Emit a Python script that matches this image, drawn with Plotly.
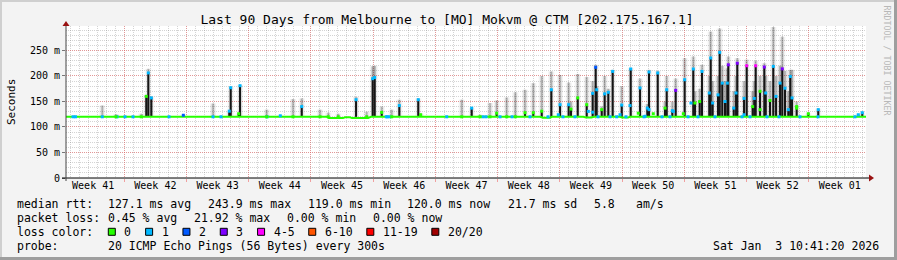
import pandas as pd
import plotly.graph_objects as go

# ---------------- data ----------------
start_time = pd.Timestamp("2025-10-05 10:41:20")
end_time = pd.Timestamp("2026-01-03 10:41:20")

title_text = "Last 90 Days from Melbourne to [MO] Mokvm @ CTM [202.175.167.1]"

week_boundaries = ["2025-10-12", "2025-10-19", "2025-10-26", "2025-11-02", "2025-11-09",
                   "2025-11-16", "2025-11-23", "2025-11-30", "2025-12-07", "2025-12-14",
                   "2025-12-21", "2025-12-28"]
week_label_dates = ["2025-10-08 12:00", "2025-10-15 12:00", "2025-10-22 12:00", "2025-10-29 12:00",
                    "2025-11-05 12:00", "2025-11-12 12:00", "2025-11-19 12:00", "2025-11-26 12:00",
                    "2025-12-03 12:00", "2025-12-10 12:00", "2025-12-17 12:00", "2025-12-24 12:00",
                    "2025-12-31 12:00"]
week_labels = ["Week 41", "Week 42", "Week 43", "Week 44", "Week 45", "Week 46", "Week 47",
               "Week 48", "Week 49", "Week 50", "Week 51", "Week 52", "Week 01"]

y_tick_values = [0, 50, 100, 150, 200, 250]
y_tick_labels = ["0", "50 m", "100 m", "150 m", "200 m", "250 m"]

# median rtt baseline (days after start, ms)
baseline_day = [0.0, 29.36, 29.59, 31.16, 31.39, 31.95, 32.18, 33.98, 34.31,
                53.33, 53.66, 54.45, 54.68, 58.2, 58.5, 59.1, 59.4, 62.33, 62.55, 63.23, 63.45, 90.0]
baseline_ms = [120, 120, 117.5, 117.5, 119, 119, 117.5, 117.5, 120,
               120, 118, 118, 120, 120, 118.5, 118.5, 120, 120, 118.5, 118.5, 120, 120]

# latency spikes: position, median top, smoke (max) top, loss colour index
spike_day = [4.08, 5.63, 8.47, 9.03, 9.26, 9.60, 13.20, 16.54, 18.37, 18.53, 19.43, 19.58,
             22.58, 24.11, 25.54, 26.52, 28.58, 29.51, 30.63, 32.63, 33.83, 34.50, 34.73,
             35.52, 36.03, 36.64, 37.50, 39.63, 39.90, 44.52, 45.64, 46.58, 47.70, 48.45,
             49.58, 50.55, 51.64, 52.57, 53.52, 54.60, 55.58, 56.55, 57.57, 58.58, 59.25,
             59.59, 60.27, 60.60, 61.50, 62.52, 63.53, 64.58, 65.59, 66.57, 67.58, 68.59,
             69.60, 70.57, 71.55, 72.53, 73.54, 74.51, 75.52, 76.58, 77.59, 78.56, 79.57,
             80.58, 81.48, 82.20, 83.51, 84.63, 89.13, 89.58,
             56.81, 59.70, 61.01, 65.40, 67.39, 68.21, 70.76, 71.29, 72.37, 72.75, 73.35,
             73.83, 74.14, 74.40, 75.12, 75.38, 76.28, 77.25, 77.43, 78.08, 78.72, 79.20,
             79.88, 80.33, 80.89, 81.26, 81.68]
spike_median_ms = [120, 120, 120, 160, 206, 157, 123, 120, 131, 177, 126, 181,
                   120, 122, 120, 140, 120, 120, 120, 153.5, 120, 194.7, 197,
                   128.6, 120, 120, 142, 153.5, 124, 120, 137, 120, 120, 127,
                   120, 120, 128, 128, 131, 173, 143.7, 143.7, 157, 143.7, 166,
                   217, 134, 165, 209, 143, 213.7, 176.5, 207.8, 205.9, 173, 171.8,
                   192.7, 213.7, 209, 235.3, 246.3, 222, 225, 220, 220, 217.6, 218.8,
                   214, 199, 140, 126, 134, 124, 128,
                   135, 173, 168, 137, 137, 132, 147, 150, 166.6, 147, 163,
                   186, 150, 186, 137, 166.6, 156, 140, 156, 170, 166.6, 152,
                   160, 186, 176, 134, 157]
spike_smoke_ms = [142, 125, 126, 163, 214, 160, 124, 146, 132, 179, 127, 182,
                  134, 123, 155, 156, 134, 128, 126, 159, 130, 219, 220,
                  140, 122, 134, 153.5, 156, 126, 153.5, 138, 124, 147, 152,
                  158, 168, 173, 186, 200, 209, 202, 187, 204, 198, 190,
                  222, 140, 200, 212, 180, 216, 195, 212, 210, 200, 195,
                  235, 238, 222, 287, 293, 238, 235, 232, 230, 225, 296,
                  277, 212, 150, 127, 136, 125, 129,
                  150, 180, 175, 145, 150, 150, 170, 175, 200, 190, 200,
                  220, 190, 215, 170, 200, 190, 170, 190, 200, 200, 190,
                  200, 220, 210, 170, 212]
spike_loss = [1, 0, 0, 0, 1, 1, 2, 1, 1, 1, 0, 1,
              0, 1, 0, 1, 0, 0, 0, 1, 0, 1, 1,
              0, 1, 0, 1, 1, 0, 0, 1, 0, 0, 0,
              0, 0, 0, 0, 0, 1, 1, 1, 0, 0, 1,
              2, 0, 1, 1, 1, 1, 1, 1, 1, 1, 3,
              1, 1, 1, 1, 1, 3, 3, 4, 4, 3, 1,
              3, 1, 0, 0, 1, 1, 1,
              0, 1, 1, 1, 0, 1, 0, 0, 1, 1, 1,
              1, 1, 1, 1, 1, 1, 0, 1, 0, 1, 0,
              1, 1, 1, 1, 1]

# extra median points coloured by loss (days, ms, loss index)
dot_day = [55.38, 58.76, 59.25, 62.33, 63.45, 64.38, 65.14, 65.59, 66.07, 68.32, 69.45,
           70.31, 76.28, 78.08, 82.20,
           0.79, 1.07, 5.74, 6.64, 7.54, 11.59, 17.44, 22.61, 36.17, 36.45, 42.83, 46.91,
           47.25, 48.83, 50.18, 52.2, 54.23, 55.91, 57.26, 59.85, 61.2, 61.95, 63.0, 65.03,
           67.05, 67.95, 69.98, 71.1, 73.01, 76.05, 76.95, 78.86, 80.21, 82.57, 84.6, 88.76]
dot_ms = [124, 130.6, 129, 124, 142, 127, 121, 134, 126, 130.6, 126,
          147, 124, 134, 137,
          120, 120, 120, 120, 120, 120, 120, 120, 120, 120, 120, 120,
          120, 120, 120, 120, 120, 120, 120, 120, 120, 120, 120, 120,
          120, 120, 120, 120, 120, 120, 120, 120, 120, 120, 120, 120]
dot_loss = [1, 1, 1, 1, 1, 0, 1, 1, 0, 1, 0,
            1, 1, 0, 0,
            1, 1, 1, 1, 1, 1, 1, 1, 1, 1, 1, 1,
            1, 1, 1, 1, 1, 1, 1, 1, 1, 1, 1, 1,
            1, 1, 1, 1, 1, 1, 1, 1, 1, 1, 1, 1]

loss_labels = ["0", "1", "2", "3", "4-5", "6-10", "11-19", "20/20"]
loss_colors = ["#26ff00", "#00b8ff", "#0059ff", "#7e00ff", "#ff00ff", "#ff5500", "#ff0000", "#a10000"]

rtt_avg, rtt_max, rtt_min, rtt_now, rtt_sd, rtt_ams = 127.1, 243.9, 119.0, 120.0, 21.7, 5.8
loss_avg, loss_max, loss_min, loss_now = 0.45, 21.92, 0.00, 0.00
probe_text = "20 ICMP Echo Pings (56 Bytes) every 300s"
stamp_text = "Sat Jan  3 10:41:20 2026"
base_ms = 120

# ---------------- layout geometry ----------------
W, H = 897, 260
L, R, T, B = 66, 31, 26, 82
PW, PH = W - L - R, H - T - B
MONO = "DejaVu Sans Mono"


def px(x):
    return (x - L) / PW


def py(y):
    return (H - B - y) / PH


def when(d):
    return start_time + pd.Timedelta(days=d)


def segs(days, lo, hi, cond=None):
    xs, ys = [], []
    for i, (d, a, b) in enumerate(zip(days, lo, hi)):
        if cond is not None and not cond[i]:
            continue
        t = when(d)
        xs += [t, t, None]
        ys += [a, b, None]
    return xs, ys


fig = go.Figure()

lo = [base_ms] * len(spike_day)
sx, sy = segs(spike_day, lo, spike_smoke_ms)
fig.add_trace(go.Scatter(x=sx, y=sy, mode="lines", line=dict(color="rgba(40,40,40,0.06)", width=6),
                         hoverinfo="skip", showlegend=False))
fig.add_trace(go.Scatter(x=sx, y=sy, mode="lines", line=dict(color="rgba(40,40,40,0.16)", width=3),
                         hoverinfo="skip", showlegend=False))
fig.add_trace(go.Scatter(x=sx, y=sy, mode="lines", line=dict(color="rgba(40,40,40,0.22)", width=1.2),
                         hoverinfo="skip", showlegend=False))
bx, by = segs(spike_day, lo, spike_median_ms, [m > base_ms + 1 for m in spike_median_ms])
fig.add_trace(go.Scatter(x=bx, y=by, mode="lines", line=dict(color="#151515", width=2),
                         hoverinfo="skip", showlegend=False))
fig.add_trace(go.Scatter(x=[when(d) for d in baseline_day], y=baseline_ms, mode="lines",
                         line=dict(color=loss_colors[0], width=2), hoverinfo="skip", showlegend=False))
mk_x = [when(d) for d in spike_day]
mk_y = list(spike_median_ms)
mk_c = [loss_colors[i] for i in spike_loss]
fig.add_trace(go.Scatter(x=[when(d) for d in dot_day] + mk_x, y=list(dot_ms) + mk_y, mode="markers",
                         marker=dict(symbol="square", size=3, color=[loss_colors[i] for i in dot_loss] + mk_c,
                                     line=dict(width=0)),
                         hoverinfo="skip", showlegend=False))
# carrier for the label axis
fig.add_trace(go.Scatter(x=[start_time], y=[None], xaxis="x2", mode="markers", hoverinfo="skip",
                         showlegend=False))

red_grid = "rgba(240,90,90,0.50)"
gray_grid = "rgba(120,120,120,0.32)"
dots = "1px,1px"

fig.update_layout(
    template="none",
    width=W, height=H,
    margin=dict(l=L, r=R, t=T, b=B, pad=0),
    paper_bgcolor="#f3f3f3",
    plot_bgcolor="#ffffff",
    showlegend=False,
    hovermode=False,
    title=dict(text=title_text, x=447 / W, xref="container", xanchor="center",
               y=1 - 19.5 / H, yref="container", yanchor="middle",
               font=dict(family=MONO, size=13, color="#000")),
    xaxis=dict(type="date", range=[start_time, end_time], automargin=False,
               tickvals=week_boundaries, showticklabels=False,
               ticks="outside", ticklen=3, tickwidth=1, tickcolor="#f0a0a0",
               showgrid=True, gridcolor=red_grid, griddash=dots, gridwidth=1,
               minor=dict(dtick=86400000, tick0="2025-10-05", showgrid=True, gridcolor=gray_grid,
                          griddash=dots, ticks=""),
               showline=False, zeroline=False),
    xaxis2=dict(type="date", range=[start_time, end_time], overlaying="x", anchor="y", side="bottom",
                automargin=False, tickvals=week_label_dates, ticktext=week_labels, ticks="",
                showgrid=False, showline=False, zeroline=False,
                tickfont=dict(family=MONO, size=10, color="#000")),
    yaxis=dict(range=[0, 298], automargin=False, tickvals=y_tick_values, ticktext=y_tick_labels,
               ticks="outside", ticklen=3, tickwidth=1, tickcolor="#777",
               tickfont=dict(family=MONO, size=10, color="#000"),
               showgrid=True, gridcolor=red_grid, griddash=dots, gridwidth=1,
               minor=dict(dtick=10, showgrid=True, gridcolor=gray_grid, griddash=dots, ticks=""),
               showline=False, zeroline=False),
)

shapes = []
# 3d frame
shapes.append(dict(type="rect", xref="paper", yref="paper", x0=px(0), x1=px(W), y0=py(0), y1=py(2),
                   fillcolor="#cfcfcf", line=dict(width=0)))
shapes.append(dict(type="rect", xref="paper", yref="paper", x0=px(0), x1=px(2), y0=py(0), y1=py(H),
                   fillcolor="#cfcfcf", line=dict(width=0)))
shapes.append(dict(type="rect", xref="paper", yref="paper", x0=px(0), x1=px(W), y0=py(H - 3), y1=py(H),
                   fillcolor="#9e9e9e", line=dict(width=0)))
shapes.append(dict(type="rect", xref="paper", yref="paper", x0=px(W - 3), x1=px(W), y0=py(0), y1=py(H),
                   fillcolor="#9e9e9e", line=dict(width=0)))
# axes with arrows
shapes.append(dict(type="line", xref="paper", yref="paper", x0=px(62), x1=px(870), y0=0, y1=0,
                   line=dict(color="#000", width=1)))
shapes.append(dict(type="line", xref="paper", yref="paper", x0=0, x1=0, y0=py(181), y1=py(25),
                   line=dict(color="#444", width=1)))
shapes.append(dict(type="path", xref="paper", yref="paper",
                   path=f"M {px(869)} {py(174.5)} L {px(874)} {py(178)} L {px(869)} {py(181.5)} Z",
                   fillcolor="#991111", line=dict(width=0)))
shapes.append(dict(type="path", xref="paper", yref="paper",
                   path=f"M {px(62.5)} {py(26)} L {px(66)} {py(21)} L {px(69.5)} {py(26)} Z",
                   fillcolor="#991111", line=dict(width=0)))

annotations = []


def text(x, y, s, anchor="left", size=11.5, color="#000", angle=0, font=MONO):
    annotations.append(dict(text=s, x=px(x), y=py(y), xref="paper", yref="paper", showarrow=False,
                            xanchor=anchor, yanchor="middle", textangle=angle, borderpad=0,
                            font=dict(family=font, size=size, color=color)))


text(11, 102, "Seconds", anchor="center", size=11, angle=-90)
text(886.5, 60, "RRDTOOL / TOBI OETIKER", anchor="center", size=8.3, color="#b8b8b8", angle=90)

line1 = [(16, "median rtt:"), (107.3, f"{rtt_avg:.1f} ms avg"), (207.3, f"{rtt_max:.1f} ms max"),
         (306.7, f"{rtt_min:.1f} ms min"), (405.7, f"{rtt_now:.1f} ms now"), (507.3, f"{rtt_sd:.1f} ms sd"),
         (593, f"{rtt_ams:.1f}"), (635, "am/s")]
for x, s in line1:
    text(x, 204, s)
line2 = [(16, "packet loss:"), (107.3, f"{loss_avg:.2f} % avg"), (192.7, f"{loss_max:.2f} % max"),
         (286, f"{loss_min:.2f} % min"), (372.3, f"{loss_now:.2f} % now")]
for x, s in line2:
    text(x, 218.3, s)
text(16, 231.7, "loss color:")
pos = 108.3
for lab, col in zip(loss_labels, loss_colors):
    shapes.append(dict(type="rect", xref="paper", yref="paper", x0=px(pos), x1=px(pos + 7),
                       y0=py(235.3), y1=py(228.3), fillcolor=col, line=dict(color="#000", width=1)))
    text(pos + 15, 231.7, lab)
    pos = pos + 15 + len(lab) * 6.92 + 15.4
text(16, 246, "probe:")
text(107.3, 246, probe_text)
text(880, 246, stamp_text, anchor="right")

fig.update_layout(shapes=shapes, annotations=annotations)
fig.write_html("out.html")
